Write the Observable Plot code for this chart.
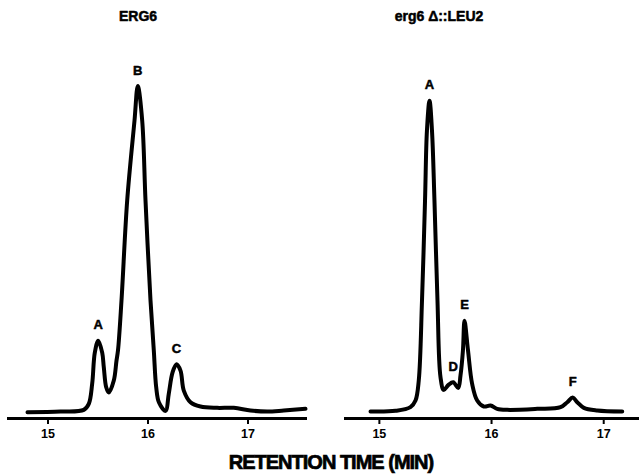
<!DOCTYPE html>
<html><head><meta charset="utf-8">
<script src="https://cdn.jsdelivr.net/npm/d3@7"></script>
<script src="https://cdn.jsdelivr.net/npm/@observablehq/plot@0.6"></script>
<style>
body{margin:0;background:#fff;}
#wrap{width:639px;height:474px;position:relative;background:#fff;}
#row{display:flex;}
#xlabel{position:absolute;left:0;width:662px;top:451px;line-height:20px;text-align:center;font:bold 20px "Liberation Sans",Arial,sans-serif;letter-spacing:-1px;-webkit-text-stroke:0.7px #000;color:#000;}
</style></head><body>
<div id="wrap"><div id="row"><div id="left"></div><div id="right"></div></div><div id="xlabel"></div></div>
<script>
// ---- data (time in min, detector response, arbitrary units) ----
const leftTime   = [14.795,15.125,15.358,15.408,15.442,15.468,15.502,15.542,15.558,15.582,15.608,15.658,15.685,15.700,15.735,15.792,15.865,15.898,15.942,15.975,16.025,16.058,16.082,16.110,16.175,16.208,16.245,16.285,16.325,16.358,16.425,16.525,16.692,16.858,17.025,17.192,17.358,17.575];
const leftSignal = [1.9,2.1,2.6,4.4,10.5,19.8,23.4,19.8,15.4,9.4,7.8,11.4,17.4,20.5,35.5,65.6,89.6,100,89.6,65.6,35.5,20.5,9.4,4.8,2.3,7.5,13.8,16.3,14.4,8.4,4.9,3.6,3.2,3.2,2.4,2.1,2.4,2.9];

const rightTime   = [14.921,15.144,15.277,15.322,15.351,15.380,15.407,15.424,15.447,15.469,15.491,15.518,15.545,15.574,15.616,15.658,15.703,15.723,15.745,15.759,15.790,15.827,15.872,15.931,15.991,16.050,16.140,16.407,16.615,16.675,16.724,16.764,16.823,16.942,17.165];
const rightSignal = [2.1,2.3,3.4,5.4,11.4,35.5,65.6,86.6,95.6,86.6,65.6,35.5,12.4,8.6,10.1,10.9,9.2,12.9,20.5,29.4,20.5,10.4,5.4,3.6,3.9,2.9,2.6,2.9,3.4,4.9,6.3,4.9,3.2,2.4,2.1];

const leftPeakNames   = ["A","B","C"];
const leftPeakTimes   = [15.502,15.898,16.285];
const leftPeakHeights = [23.4,100,16.3];

const rightPeakNames   = ["A","D","E","F"];
const rightPeakTimes   = [15.447,15.658,15.759,16.724];
const rightPeakHeights = [95.6,10.9,29.4,6.3];

const tickValues = [15,16,17];
const panelTitles = ["ERG6","erg6 Δ::LEU2"];
const axisTitle = "RETENTION TIME (MIN)";

const FONT = '"Liberation Sans", Arial, Helvetica, sans-serif';

function panel(o) {
  const trace = o.times.map((t,i)=>({t, v:o.signal[i]}));
  const peaks = o.names.map((n,i)=>({n, t:o.pt[i], v:o.ph[i]}));
  return Plot.plot({
    width: o.width, height: 445,
    marginLeft: o.mL, marginRight: o.mR, marginTop: 85.5, marginBottom: 27,
    x: {domain: o.domain},
    y: {domain: [0,100], axis: null},
    style: {fontFamily: FONT, color:"#000", background:"#fff", overflow:"visible"},
    marks: [
      Plot.frame({anchor:"bottom", stroke:"#000", strokeWidth:3}),
      Plot.axisX({ticks: tickValues, tickSize: 6, tickPadding: 5, tickFormat: d=>String(d), fontSize: 12.5, fontWeight: "bold", strokeWidth: 2, label: null, stroke:"#000"}),
      Plot.line(trace, {x:"t", y:"v", curve:"catmull-rom", stroke:"#000", strokeWidth:4, strokeLinejoin:"round", strokeLinecap:"round"}),
      Plot.text(peaks, {x:"t", y:"v", text:"n", dy:-15.5, fontSize:13, fontWeight:"bold", fill:"#000", stroke:"#000", strokeWidth:0.5}),
      Plot.text([o.title], {frameAnchor:"top", dx:o.titleDx, dy:-69, lineAnchor:"middle", fontSize:14, fontWeight:"bold", fill:"#000", stroke:"#000", strokeWidth:0.5})
    ]
  });
}

document.getElementById("left").append(panel({
  times:leftTime, signal:leftSignal, names:leftPeakNames, pt:leftPeakTimes, ph:leftPeakHeights,
  title:panelTitles[0], width:320, mL:8, mR:15, domain:[14.605,17.575], titleDx:-19
}));
document.getElementById("right").append(panel({
  times:rightTime, signal:rightSignal, names:rightPeakNames, pt:rightPeakTimes, ph:rightPeakHeights,
  title:panelTitles[1], width:319, mL:25, mR:0, domain:[14.698,17.319], titleDx:-53.5
}));
document.getElementById("xlabel").textContent = axisTitle;
</script>
</body></html>
